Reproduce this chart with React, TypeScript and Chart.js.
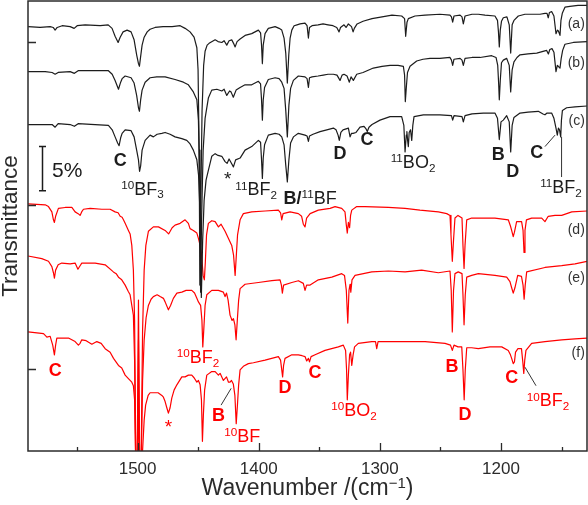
import React, { useEffect, useRef } from 'react';
import { Chart, registerables } from 'chart.js';

Chart.register(...registerables);

const FONT = "'Liberation Sans', Arial, Helvetica, sans-serif";
const INK = '#1c1c1c';
const RED = '#ff0000';
const AXIS = '#2b2b2b';

// Axis ranges: wavenumber (cm^-1, reversed) and offset transmittance (%)
const xRange: [number, number] = [1129, 1590.5];
const yRange: [number, number] = [0, 51];
const xMajorTicks = [1500, 1400, 1300, 1200];
const xMinorTicks = [1550, 1450, 1350, 1250, 1150];
const yTickValues = [9.3, 27.9, 46.35];
const scaleBar = { x: 1578.8, from: 29.5, to: 34.5, label: '5%', labelX: 1570.6 };

// Spectra: [wavenumber, transmittance %]
const traceA: [number, number][] = [
  [1590.4,48.1],[1580.5,48.0],[1572.2,48.1],[1569.7,48.0],[1568.1,47.7],[1566.4,48.0],[1562.3,48.2],[1555.7,48.1],[1552.4,47.9],[1549.9,48.2],[1543.3,48.3],[1530.9,48.2],[1524.3,48.3],[1521.1,47.9],[1518.6,47.0],[1516.1,46.3],[1514.4,46.9],[1512.0,47.5],[1508.7,47.7],[1505.4,47.5],[1502.9,46.6],[1500.8,44.9],[1499.3,43.9],[1498.5,43.6],[1497.7,44.5],[1496.3,46.0],[1494.6,46.9],[1492.1,47.5],[1489.7,47.8],[1485.6,48.0],[1479.0,48.1],[1471.5,48.1],[1464.9,48.2],[1460.8,47.9],[1456.7,47.5],[1453.4,46.9],[1451.1,45.7],[1450.1,43.2],[1449.2,34.1],[1448.6,18.8],[1447.8,28.4],[1446.8,38.6],[1445.5,43.7],[1444.3,45.3],[1442.6,46.0],[1441.0,46.2],[1438.5,46.4],[1436.0,46.6],[1433.6,46.4],[1430.5,46.3],[1428.6,46.5],[1426.4,46.0],[1424.5,46.5],[1422.3,46.6],[1420.8,46.2],[1419.5,45.8],[1417.9,46.4],[1415.4,46.7],[1411.3,47.1],[1405.8,47.3],[1400.3,47.7],[1398.5,47.4],[1397.7,46.0],[1397.0,43.9],[1396.3,46.0],[1394.8,47.3],[1392.1,47.9],[1386.5,48.1],[1383.2,47.9],[1381.0,47.7],[1379.1,46.8],[1377.7,45.1],[1376.4,41.7],[1375.2,44.9],[1374.1,46.8],[1372.7,47.7],[1370.8,48.2],[1368.4,48.3],[1365.9,48.4],[1361.8,48.5],[1360.1,48.2],[1359.0,46.8],[1358.1,48.0],[1356.0,48.2],[1351.0,48.3],[1346.9,48.4],[1342.8,48.3],[1338.7,48.2],[1335.6,48.0],[1333.7,47.5],[1332.5,48.0],[1329.6,48.3],[1327.9,48.0],[1326.0,48.4],[1323.4,48.1],[1322.1,47.5],[1321.1,47.9],[1318.8,48.4],[1313.9,48.7],[1306.5,49.0],[1298.2,49.2],[1290.0,49.4],[1282.0,49.3],[1279.6,49.0],[1278.7,47.0],[1277.6,48.6],[1276.5,49.0],[1271.0,49.3],[1262.7,49.4],[1250.4,49.5],[1242.1,49.4],[1240.9,49.2],[1239.9,48.6],[1238.8,49.3],[1233.8,49.4],[1232.2,49.2],[1231.1,48.4],[1229.7,49.3],[1223.9,49.5],[1218.7,49.5],[1213.2,49.4],[1205.0,49.3],[1202.9,48.8],[1202.1,47.5],[1201.4,45.8],[1200.6,47.7],[1199.6,48.7],[1198.1,49.1],[1195.1,49.2],[1193.2,48.3],[1192.0,45.1],[1190.8,48.3],[1189.3,48.8],[1185.7,49.3],[1180.2,49.5],[1174.4,49.5],[1167.8,49.5],[1163.7,49.6],[1162.0,49.6],[1161.0,49.1],[1160.0,49.7],[1158.2,49.8],[1156.3,49.3],[1154.6,47.3],[1153.4,47.7],[1152.6,47.6],[1151.3,47.1],[1150.5,48.8],[1149.4,49.6],[1147.2,50.3],[1143.1,50.4],[1136.4,50.5],[1129,50.5],
];

const traceB: [number, number][] = [
  [1590.4,43.0],[1576.3,43.0],[1570.6,42.9],[1568.1,42.7],[1565.6,42.9],[1555.7,43.0],[1552.2,42.8],[1549.1,43.1],[1535.1,43.1],[1524.1,43.1],[1521.0,42.7],[1518.6,42.0],[1515.8,41.0],[1514.0,41.8],[1512.8,42.2],[1510.3,42.5],[1505.4,42.3],[1502.9,41.7],[1500.8,40.3],[1499.3,38.9],[1498.5,38.5],[1497.5,39.8],[1496.3,40.9],[1493.8,41.8],[1489.7,42.3],[1484.2,42.4],[1477.3,42.4],[1469.1,42.1],[1462.2,41.8],[1458.1,41.5],[1454.0,40.7],[1451.1,39.8],[1449.8,37.5],[1448.8,30.7],[1448.0,18.0],[1447.2,26.2],[1445.9,34.1],[1444.3,37.7],[1441.6,40.0],[1438.8,40.9],[1434.6,41.0],[1430.5,40.8],[1428.6,41.0],[1426.4,40.3],[1424.1,40.8],[1422.9,40.7],[1421.0,40.1],[1418.7,40.9],[1415.4,41.2],[1411.3,41.5],[1405.8,41.5],[1400.3,41.9],[1398.5,41.6],[1397.7,39.8],[1397.0,37.5],[1396.3,39.8],[1395.2,41.2],[1392.1,42.1],[1386.5,42.3],[1383.2,42.2],[1381.0,41.8],[1379.1,41.1],[1377.7,38.6],[1376.4,35.6],[1375.1,39.2],[1373.7,41.1],[1371.4,42.0],[1367.3,42.5],[1361.8,42.4],[1360.1,42.2],[1359.0,41.2],[1358.1,42.3],[1356.0,42.4],[1351.0,42.5],[1346.7,42.6],[1342.8,42.7],[1338.4,42.7],[1335.4,42.6],[1332.9,42.0],[1331.2,42.6],[1329.6,42.7],[1327.1,42.5],[1325.2,41.8],[1323.8,42.4],[1321.9,42.0],[1319.1,42.7],[1313.9,42.9],[1305.4,43.4],[1298.2,43.6],[1291.6,43.7],[1285.0,43.7],[1280.6,43.6],[1279.6,42.6],[1279.0,39.6],[1278.0,41.5],[1277.2,42.9],[1275.1,43.6],[1269.6,44.2],[1264.4,44.4],[1258.6,44.5],[1250.4,44.5],[1242.1,44.6],[1240.9,44.3],[1239.9,43.7],[1238.8,44.4],[1233.8,44.5],[1232.2,44.3],[1231.1,43.7],[1229.7,44.5],[1223.9,44.6],[1217.3,44.6],[1207.7,44.8],[1204.1,44.6],[1202.7,43.7],[1201.9,41.5],[1201.4,39.8],[1200.6,42.0],[1199.6,44.0],[1198.1,44.3],[1195.3,44.5],[1193.2,43.7],[1192.0,40.7],[1190.8,43.2],[1189.3,44.1],[1186.8,44.6],[1184.3,44.9],[1177.7,45.0],[1170.5,45.1],[1162.3,45.4],[1160.9,45.0],[1159.7,45.5],[1157.9,45.6],[1156.3,45.2],[1154.6,43.0],[1153.5,43.7],[1152.7,43.6],[1151.3,43.4],[1150.3,44.5],[1149.1,45.4],[1147.2,46.1],[1140.3,46.3],[1129,46.4],
];

const traceC: [number, number][] = [
  [1590.4,37.0],[1576.3,37.0],[1570.6,37.0],[1568.1,36.7],[1565.6,37.1],[1555.7,37.0],[1552.2,36.8],[1549.1,37.1],[1535.1,37.0],[1524.1,36.9],[1521.0,36.4],[1518.6,35.6],[1516.5,34.9],[1515.3,34.6],[1514.0,35.5],[1512.8,36.0],[1510.3,36.4],[1505.4,36.3],[1502.9,35.6],[1500.8,34.1],[1499.3,33.0],[1498.4,31.7],[1497.5,32.3],[1496.3,34.1],[1493.8,35.2],[1489.7,35.8],[1487.0,35.6],[1483.9,35.9],[1480.0,36.0],[1477.3,36.1],[1473.2,35.9],[1469.1,35.6],[1463.5,35.4],[1459.4,35.2],[1456.7,34.8],[1454.0,34.1],[1451.1,33.0],[1449.7,31.3],[1448.4,26.7],[1447.4,17.4],[1446.3,23.9],[1445.1,28.4],[1443.5,30.7],[1441.6,31.8],[1438.8,33.4],[1436.0,33.7],[1433.6,33.5],[1430.5,33.4],[1427.8,32.8],[1426.1,32.6],[1424.5,33.1],[1422.9,32.7],[1420.9,32.2],[1419.1,33.0],[1415.4,33.2],[1411.3,34.1],[1405.8,34.5],[1400.3,35.2],[1398.5,35.0],[1397.7,33.0],[1397.0,30.9],[1396.3,33.2],[1395.2,34.7],[1392.1,35.8],[1386.5,36.0],[1383.2,35.9],[1381.0,35.6],[1379.1,34.7],[1377.7,32.4],[1376.4,30.5],[1375.1,33.0],[1373.7,34.9],[1371.4,35.6],[1367.3,36.0],[1361.8,35.8],[1360.1,35.7],[1359.0,35.1],[1358.1,35.7],[1355.2,35.9],[1349.4,36.2],[1343.8,36.4],[1338.4,36.6],[1336.2,36.4],[1334.5,35.8],[1333.5,35.2],[1332.2,36.1],[1330.4,36.4],[1326.0,36.6],[1324.6,35.6],[1323.4,36.0],[1322.1,36.0],[1319.7,36.1],[1316.4,36.7],[1313.1,36.8],[1311.4,36.5],[1310.4,36.2],[1309.0,36.7],[1306.5,37.0],[1299.9,37.5],[1291.6,37.9],[1282.0,37.9],[1280.2,36.9],[1279.2,33.9],[1278.2,35.8],[1277.7,36.2],[1277.1,35.2],[1276.5,34.5],[1275.8,36.1],[1274.7,36.4],[1273.7,35.2],[1272.8,36.9],[1271.8,37.9],[1264.1,38.1],[1250.4,38.1],[1240.9,38.0],[1239.9,37.5],[1238.8,38.0],[1232.2,37.9],[1231.1,37.3],[1229.7,38.0],[1223.9,38.2],[1214.6,38.3],[1205.0,38.3],[1202.9,37.7],[1201.4,35.3],[1200.0,37.3],[1198.1,37.5],[1195.3,38.0],[1193.2,37.3],[1192.0,33.9],[1190.8,36.9],[1189.3,37.8],[1184.3,38.3],[1177.7,38.4],[1169.2,38.5],[1165.3,38.2],[1163.7,38.1],[1162.0,38.3],[1158.2,38.3],[1156.3,37.7],[1154.6,36.6],[1153.5,35.8],[1152.6,36.6],[1151.7,36.4],[1150.7,35.6],[1150.1,37.5],[1149.3,38.6],[1145.8,38.9],[1138.9,39.0],[1129,39.1],
];

const traceD: [number, number][] = [
  [1590.4,28.0],[1576.3,27.9],[1573.6,27.7],[1570.8,27.1],[1569.5,26.2],[1568.7,25.9],[1567.7,26.6],[1565.4,27.5],[1559.8,27.6],[1554.3,27.6],[1551.6,27.1],[1549.1,26.9],[1547.5,26.7],[1546.2,27.1],[1544.7,27.4],[1539.2,27.5],[1529.5,27.4],[1522.7,27.4],[1518.6,27.1],[1516.1,27.0],[1514.4,26.6],[1512.8,26.5],[1511.7,26.2],[1510.3,25.8],[1507.6,25.0],[1506.2,24.6],[1504.8,23.3],[1503.5,20.5],[1502.5,14.8],[1501.5,-1.0],[1500.6,-5.6],[1499.3,17.1],[1498.1,-5.6],[1497.1,-1.0],[1495.9,13.7],[1494.6,20.5],[1493.2,23.3],[1491.1,24.9],[1487.0,25.4],[1482.8,25.4],[1477.3,25.0],[1474.4,24.6],[1471.5,25.3],[1469.1,25.6],[1464.9,25.8],[1460.8,26.2],[1458.1,25.8],[1456.7,25.2],[1454.0,25.0],[1451.1,24.7],[1449.8,24.1],[1448.4,23.3],[1447.2,22.2],[1445.9,19.9],[1444.9,19.4],[1444.1,21.4],[1443.1,24.5],[1441.6,25.8],[1438.8,26.1],[1436.0,26.0],[1433.3,25.4],[1431.1,25.7],[1427.8,24.9],[1425.1,24.1],[1422.3,23.3],[1420.8,22.2],[1419.5,19.9],[1418.5,22.2],[1417.5,24.5],[1415.4,26.2],[1412.7,26.9],[1405.8,27.1],[1394.8,27.2],[1383.8,27.3],[1382.0,27.0],[1381.0,26.2],[1379.9,26.9],[1374.1,27.1],[1367.3,26.9],[1364.6,26.6],[1363.2,25.7],[1361.8,25.4],[1360.5,26.4],[1357.6,26.9],[1350.8,27.3],[1341.1,27.5],[1337.0,27.7],[1331.5,27.5],[1328.8,27.1],[1327.7,25.6],[1326.9,24.7],[1326.0,25.9],[1325.0,25.3],[1324.2,26.7],[1323.2,27.3],[1319.1,27.7],[1312.3,27.7],[1293.0,27.6],[1279.2,27.5],[1266.9,27.3],[1251.7,27.1],[1244.8,26.9],[1242.1,26.7],[1241.3,24.5],[1240.2,21.5],[1239.2,23.9],[1238.0,26.4],[1235.5,26.7],[1232.2,26.4],[1231.4,23.3],[1230.5,20.7],[1229.7,23.3],[1228.3,26.2],[1224.2,26.4],[1217.3,26.4],[1205.0,26.4],[1194.0,26.2],[1192.2,25.5],[1191.2,25.0],[1189.9,24.3],[1188.9,24.8],[1187.1,26.0],[1183.0,26.0],[1181.8,25.0],[1181.0,22.5],[1180.2,25.0],[1179.0,26.2],[1174.7,26.4],[1166.4,26.4],[1163.7,26.0],[1161.0,26.6],[1155.4,26.7],[1149.9,26.7],[1141.6,27.1],[1129,27.2],
];

const traceE: [number, number][] = [
  [1590.4,22.1],[1579.1,21.8],[1573.6,21.5],[1570.8,20.9],[1569.5,20.2],[1568.7,19.6],[1567.7,20.5],[1565.6,21.1],[1562.6,21.3],[1555.7,21.2],[1551.6,21.3],[1549.3,20.6],[1547.5,21.0],[1546.1,21.3],[1535.1,21.3],[1526.8,21.1],[1520.0,20.3],[1517.7,20.1],[1515.8,19.7],[1513.1,19.4],[1510.3,18.8],[1507.8,18.1],[1506.2,17.7],[1504.8,16.5],[1503.5,15.4],[1502.5,10.3],[1501.5,-2.2],[1500.6,-5.6],[1499.3,12.6],[1498.1,-5.6],[1497.1,-2.2],[1495.9,8.0],[1494.6,12.6],[1493.0,15.1],[1491.1,16.5],[1488.9,17.2],[1487.0,17.5],[1483.9,17.7],[1481.4,17.5],[1478.7,17.3],[1477.3,16.9],[1474.6,16.0],[1472.8,16.5],[1470.5,17.3],[1467.6,17.9],[1463.5,18.0],[1460.0,18.2],[1455.3,18.2],[1453.0,17.9],[1451.1,17.3],[1449.8,16.9],[1448.0,16.5],[1446.9,14.8],[1446.2,11.8],[1445.4,13.7],[1444.3,16.5],[1442.9,17.7],[1438.8,18.2],[1433.3,18.2],[1429.2,18.0],[1427.8,17.5],[1426.6,17.9],[1425.3,17.1],[1423.7,15.4],[1422.0,14.8],[1420.9,15.0],[1419.7,14.3],[1418.7,12.6],[1417.7,14.8],[1416.6,17.1],[1415.4,18.4],[1411.3,18.9],[1400.3,19.1],[1389.2,19.3],[1382.4,19.4],[1381.3,18.8],[1380.5,17.9],[1379.5,18.8],[1372.7,19.1],[1367.3,19.3],[1363.2,19.0],[1361.8,18.2],[1360.5,18.8],[1357.6,18.8],[1350.8,19.4],[1339.7,19.7],[1331.5,20.1],[1329.2,19.9],[1327.7,18.2],[1326.5,14.5],[1325.5,18.2],[1324.6,18.9],[1324.0,18.0],[1323.0,19.4],[1320.5,19.9],[1306.7,20.3],[1293.0,20.4],[1279.2,20.3],[1265.5,20.5],[1251.7,20.2],[1242.1,20.4],[1241.1,18.2],[1240.2,13.5],[1239.2,18.2],[1238.0,20.1],[1235.3,20.3],[1232.2,20.1],[1231.4,17.7],[1230.5,14.3],[1229.5,17.7],[1228.3,19.7],[1224.2,19.9],[1218.7,20.1],[1205.0,19.9],[1195.3,19.7],[1192.6,19.2],[1191.2,18.5],[1189.9,17.9],[1188.5,18.5],[1186.2,19.9],[1183.1,19.8],[1181.8,18.8],[1180.9,17.2],[1180.0,18.8],[1178.8,20.3],[1163.7,20.8],[1149.9,21.0],[1138.9,21.2],[1129,21.5],
];

const traceF: [number, number][] = [
  [1590.4,13.5],[1577.7,13.3],[1574.9,12.9],[1572.2,13.0],[1570.1,12.0],[1568.7,10.9],[1567.7,12.0],[1566.7,12.8],[1557.1,12.8],[1551.6,12.4],[1548.9,12.0],[1547.5,12.2],[1546.1,12.6],[1542.5,12.5],[1537.8,12.1],[1533.7,12.4],[1530.1,12.2],[1526.8,11.6],[1522.7,11.2],[1519.9,10.5],[1515.8,9.7],[1513.1,9.4],[1510.3,8.6],[1507.6,8.2],[1504.8,7.8],[1503.5,7.4],[1502.5,5.8],[1501.5,-2.2],[1500.6,-5.6],[1499.3,6.0],[1498.1,-5.6],[1497.1,-2.2],[1495.9,0.1],[1494.6,3.5],[1493.4,5.2],[1491.3,6.3],[1489.7,6.6],[1485.6,6.6],[1483.1,6.6],[1480.0,6.3],[1478.7,6.1],[1477.3,5.6],[1475.9,4.9],[1474.6,4.3],[1473.2,4.9],[1471.8,6.0],[1469.9,6.9],[1467.6,7.5],[1463.5,8.4],[1460.8,8.4],[1458.1,8.6],[1455.3,8.6],[1453.4,8.3],[1451.1,7.8],[1449.8,8.0],[1448.4,7.5],[1447.3,5.8],[1446.5,1.1],[1445.7,4.1],[1444.7,6.9],[1442.9,8.6],[1438.8,9.0],[1436.0,9.0],[1433.3,8.6],[1431.9,8.8],[1429.2,8.0],[1426.6,8.4],[1425.0,7.8],[1423.7,7.8],[1422.5,8.0],[1421.0,7.6],[1419.7,6.3],[1418.6,3.1],[1417.6,5.2],[1416.6,7.5],[1415.4,9.2],[1412.7,9.6],[1408.6,9.9],[1404.4,10.0],[1394.8,10.3],[1383.8,10.7],[1382.0,10.3],[1381.0,9.2],[1380.3,8.4],[1379.5,9.7],[1378.3,10.5],[1372.7,10.9],[1367.3,10.9],[1364.2,10.8],[1361.8,10.7],[1360.4,10.2],[1359.0,10.5],[1358.1,10.1],[1356.8,10.7],[1353.5,10.9],[1345.3,11.4],[1334.3,11.8],[1330.2,12.0],[1328.3,11.4],[1327.5,9.2],[1326.9,5.8],[1326.0,8.6],[1325.0,10.9],[1324.2,11.2],[1323.2,9.7],[1322.1,10.9],[1320.9,11.8],[1317.8,12.2],[1306.7,12.4],[1303.6,12.4],[1302.6,11.6],[1301.5,12.4],[1279.2,12.4],[1262.7,12.4],[1246.2,12.2],[1241.7,12.0],[1240.2,11.4],[1238.8,12.0],[1235.5,11.8],[1232.4,11.8],[1231.4,9.2],[1230.4,5.8],[1229.5,9.2],[1228.3,11.7],[1224.2,11.7],[1218.7,11.6],[1209.1,11.8],[1199.4,11.8],[1194.0,11.4],[1192.2,10.9],[1191.2,10.5],[1189.9,9.9],[1188.9,10.1],[1188.0,11.2],[1186.0,11.6],[1183.1,11.6],[1182.0,10.1],[1181.2,8.8],[1180.4,10.3],[1179.4,11.4],[1174.7,12.2],[1163.7,12.4],[1149.9,12.6],[1138.9,12.7],[1129,12.8],
];

// Trace tags at the right edge
const traceTags: { text: string; x: number; y: number }[] = [
  { text: '(a)', x: 1130.8, y: 48.5 },
  { text: '(b)', x: 1130.8, y: 44.1 },
  { text: '(c)', x: 1130.8, y: 37.5 },
  { text: '(d)', x: 1130.8, y: 25.2 },
  { text: '(e)', x: 1130.8, y: 19.75 },
  { text: '(f)', x: 1130.8, y: 11.25 },
];

type Kind = 'n' | 'b' | 'sup' | 'sub' | 'star';
type Part = [string, Kind];
interface Note { parts: Part[]; x: number; y: number; red?: boolean; size?: number }

// Band assignments (x: wavenumber, y: transmittance % at label centre)
const bandNotes: Note[] = [
  { parts: [['C', 'b']], x: 1514.4, y: 33.0 },
  { parts: [['10', 'sup'], ['BF', 'n'], ['3', 'sub']], x: 1495.9, y: 29.8 },
  { parts: [['*', 'star']], x: 1425.7, y: 31.4, size: 19 },
  { parts: [['11', 'sup'], ['BF', 'n'], ['2', 'sub']], x: 1402.2, y: 29.7 },
  { parts: [['B/', 'b'], ['11', 'sup'], ['BF', 'n']], x: 1357.6, y: 28.7 },
  { parts: [['D', 'b']], x: 1332.9, y: 33.8 },
  { parts: [['C', 'b']], x: 1310.6, y: 35.4 },
  { parts: [['11', 'sup'], ['BO', 'n'], ['2', 'sub']], x: 1272.6, y: 32.8 },
  { parts: [['B', 'b']], x: 1202.2, y: 33.7 },
  { parts: [['D', 'b']], x: 1190.3, y: 31.8 },
  { parts: [['C', 'b']], x: 1170.5, y: 33.9 },
  { parts: [['11', 'sup'], ['BF', 'n'], ['2', 'sub']], x: 1150.5, y: 30.0 },
  { parts: [['C', 'b']], x: 1568.1, y: 9.2, red: true },
  { parts: [['*', 'star']], x: 1474.6, y: 3.3, red: true, size: 19 },
  { parts: [['10', 'sup'], ['BF', 'n'], ['2', 'sub']], x: 1450.1, y: 10.7, red: true },
  { parts: [['B', 'b']], x: 1433.3, y: 4.1, red: true },
  { parts: [['10', 'sup'], ['BF', 'n']], x: 1413.7, y: 1.8, red: true },
  { parts: [['D', 'b']], x: 1378.3, y: 7.3, red: true },
  { parts: [['C', 'b']], x: 1353.5, y: 9.0, red: true },
  { parts: [['10', 'sup'], ['BO', 'n'], ['2', 'sub']], x: 1321.3, y: 4.7, red: true },
  { parts: [['B', 'b']], x: 1240.4, y: 9.7, red: true },
  { parts: [['D', 'b']], x: 1229.7, y: 4.3, red: true },
  { parts: [['C', 'b']], x: 1191.2, y: 8.4, red: true },
  { parts: [['10', 'sup'], ['BF', 'n'], ['2', 'sub']], x: 1161.2, y: 5.8, red: true },
];

// Leader lines from labels to their bands
const leaders: [number, number, number, number][] = [
  [1163.7, 34.5, 1155.4, 35.8],
  [1150.0, 35.6, 1150.0, 31.05],
  [1431.1, 5.2, 1422.8, 7.1],
  [1180.2, 9.5, 1171.1, 7.4],
];

const series = [
  { name: '(a)', points: traceA, color: INK },
  { name: '(b)', points: traceB, color: INK },
  { name: '(c)', points: traceC, color: INK },
  { name: '(d)', points: traceD, color: RED },
  { name: '(e)', points: traceE, color: RED },
  { name: '(f)', points: traceF, color: RED },
];

function drawRich(
  ctx: CanvasRenderingContext2D,
  parts: Part[],
  cx: number,
  cy: number,
  size: number,
  color: string,
  align: 'left' | 'center' | 'right' = 'center',
) {
  const fontOf = (k: Kind) =>
    k === 'b'
      ? `bold ${size}px ${FONT}`
      : k === 'sup' || k === 'sub'
      ? `${(size * 0.65).toFixed(1)}px ${FONT}`
      : `${size}px ${FONT}`;
  const widths = parts.map(([t, k]) => {
    ctx.font = fontOf(k);
    return ctx.measureText(t).width;
  });
  const total = widths.reduce((s, w) => s + w, 0);
  let x = align === 'right' ? cx - total : align === 'left' ? cx : cx - total / 2;
  const base = cy + 0.358 * size;
  ctx.fillStyle = color;
  ctx.textAlign = 'left';
  ctx.textBaseline = 'alphabetic';
  parts.forEach(([t, k], i) => {
    ctx.font = fontOf(k);
    let y = base;
    if (k === 'sup') y = base - 0.32 * size;
    else if (k === 'sub') y = base + 0.22 * size;
    else if (k === 'star') y = base + 0.22 * size;
    ctx.fillText(t, x, y);
    x += widths[i];
  });
}

const overlay = {
  id: 'overlay',
  afterDatasetsDraw(chart: Chart) {
    const { ctx, chartArea: a } = chart;
    const xs = chart.scales.x;
    const ys = chart.scales.y;
    ctx.save();

    // frame
    ctx.strokeStyle = AXIS;
    ctx.lineWidth = 1.5;
    ctx.strokeRect(a.left, a.top, a.right - a.left, a.bottom - a.top);

    // inward ticks
    ctx.lineWidth = 1.3;
    ctx.beginPath();
    xMajorTicks.forEach((v) => {
      const px = Math.round(xs.getPixelForValue(v)) + 0.5;
      ctx.moveTo(px, a.bottom);
      ctx.lineTo(px, a.bottom - 8);
    });
    xMinorTicks.forEach((v) => {
      const px = Math.round(xs.getPixelForValue(v)) + 0.5;
      ctx.moveTo(px, a.bottom);
      ctx.lineTo(px, a.bottom - 4);
    });
    yTickValues.forEach((v) => {
      const py = Math.round(ys.getPixelForValue(v)) + 0.5;
      ctx.moveTo(a.left, py);
      ctx.lineTo(a.left + 8, py);
    });
    ctx.stroke();

    // tick labels
    ctx.fillStyle = AXIS;
    ctx.font = `17px ${FONT}`;
    ctx.textAlign = 'center';
    ctx.textBaseline = 'middle';
    xMajorTicks.forEach((v) => {
      ctx.fillText(String(v), xs.getPixelForValue(v), a.bottom + 18);
    });

    // axis titles
    const midX = (a.left + a.right) / 2;
    drawRich(ctx, [['Wavenumber /(cm', 'n'], ['\u22121', 'sup'], [')', 'n']], midX, 487, 23, AXIS);
    ctx.save();
    ctx.translate(10.5, (a.top + a.bottom) / 2);
    ctx.rotate(-Math.PI / 2);
    ctx.font = `22.5px ${FONT}`;
    ctx.fillStyle = AXIS;
    ctx.textAlign = 'center';
    ctx.textBaseline = 'middle';
    ctx.fillText('Transmittance', 0, 0);
    ctx.restore();

    // scale bar
    const bx = Math.round(xs.getPixelForValue(scaleBar.x)) + 0.5;
    const by1 = ys.getPixelForValue(scaleBar.from);
    const by2 = ys.getPixelForValue(scaleBar.to);
    ctx.strokeStyle = INK;
    ctx.lineWidth = 1.5;
    ctx.beginPath();
    ctx.moveTo(bx, by1);
    ctx.lineTo(bx, by2);
    ctx.moveTo(bx - 3.5, by1);
    ctx.lineTo(bx + 3.5, by1);
    ctx.moveTo(bx - 3.5, by2);
    ctx.lineTo(bx + 3.5, by2);
    ctx.stroke();
    drawRich(
      ctx,
      [[scaleBar.label, 'n']],
      xs.getPixelForValue(scaleBar.labelX),
      (by1 + by2) / 2 + 0.5,
      21,
      INK,
      'left',
    );

    // leader lines
    ctx.strokeStyle = '#333333';
    ctx.lineWidth = 1;
    ctx.beginPath();
    leaders.forEach(([x1, y1, x2, y2]) => {
      ctx.moveTo(xs.getPixelForValue(x1), ys.getPixelForValue(y1));
      ctx.lineTo(xs.getPixelForValue(x2), ys.getPixelForValue(y2));
    });
    ctx.stroke();

    // band labels
    bandNotes.forEach((n) => {
      drawRich(
        ctx,
        n.parts,
        xs.getPixelForValue(n.x),
        ys.getPixelForValue(n.y),
        n.size ?? 18,
        n.red ? RED : INK,
      );
    });

    // trace tags
    traceTags.forEach((t) => {
      drawRich(ctx, [[t.text, 'n']], xs.getPixelForValue(t.x), ys.getPixelForValue(t.y), 14, '#333333', 'right');
    });

    ctx.restore();
  },
};

export default function App() {
  const ref = useRef<HTMLCanvasElement>(null);

  useEffect(() => {
    document.body.style.margin = '0';
    const canvas = ref.current;
    if (!canvas) return;
    const chart = new Chart(canvas, {
      type: 'line',
      data: {
        datasets: series.map((s) => ({
          label: s.name,
          data: s.points.map(([x, y]) => ({ x, y })),
          borderColor: s.color,
          borderWidth: 1.2,
          pointRadius: 0,
          fill: false,
          tension: 0,
          borderJoinStyle: 'round' as const,
        })),
      },
      options: {
        responsive: false,
        animation: false,
        devicePixelRatio: 1,
        events: [],
        layout: { padding: { left: 28, right: 1, top: 1, bottom: 54 } },
        plugins: { legend: { display: false }, tooltip: { enabled: false } },
        scales: {
          x: { type: 'linear', min: xRange[0], max: xRange[1], reverse: true, display: false },
          y: { type: 'linear', min: yRange[0], max: yRange[1], display: false },
        },
      },
      plugins: [overlay],
    });
    return () => chart.destroy();
  }, []);

  return (
    <div style={{ width: 588, height: 505 }}>
      <canvas ref={ref} width={588} height={505} style={{ display: 'block', width: 588, height: 505 }} />
    </div>
  );
}
